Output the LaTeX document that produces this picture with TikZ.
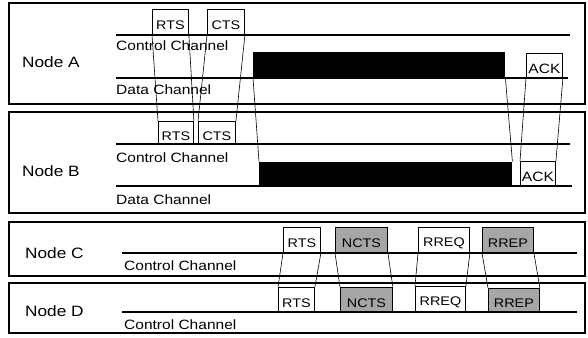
\documentclass[tikz,border=0pt]{standalone}
\usepackage{fontspec}
\setmainfont{Liberation Sans}[FakeStretch=1.15]
\begin{document}
\begin{tikzpicture}[x=1pt,y=-1pt,
  panel/.style={draw, line width=1.3pt},
  chan/.style={line width=1.1pt},
  pkt/.style={draw, line width=0.9pt, inner sep=0pt, anchor=south west,
    font=\fontsize{12.5}{13}\selectfont, text height=15.5pt},
  ctl/.style={pkt, fill=black!35},
  bar/.style={fill=black, inner sep=0pt, anchor=south west},
  conn/.style={line width=0.6pt},
  lbl/.style={anchor=base west, inner sep=0pt, font=\fontsize{13.5}{14}\selectfont},
  nodelbl/.style={anchor=base west, inner sep=0pt, font=\fontsize{15}{16}\selectfont}]

\useasboundingbox (0,0) rectangle (588,337);

% panel frames
\draw[panel] (9,3) rectangle (585,104);
\draw[panel] (9,112) rectangle (585,213);
\draw[panel] (9,222) rectangle (585,276);
\draw[panel] (9,283) rectangle (585,333);

% channel lines
\draw[chan] (116,35) -- (570,35);
\draw[chan] (116,78) -- (568,78);
\draw[chan] (116,144) -- (570,144);
\draw[chan] (116,186) -- (572,186);
\draw[chan] (122,253) -- (577,253);
\draw[chan] (122,312) -- (577,312);

% node names
\node[nodelbl] (nA) at (22,67) {Node A};
\node[nodelbl] (nB) at (22,176) {Node B};
\node[nodelbl] (nC) at (25,258) {Node C};
\node[nodelbl] (nD) at (25,316) {Node D};

% channel names
\node[lbl] (ccA) at (116,51) {Control Channel};
\node[lbl] (dcA) at (116,94) {Data Channel};
\node[lbl] (ccB) at (116,162) {Control Channel};
\node[lbl] (dcB) at (116,204) {Data Channel};
\node[lbl] (ccC) at (124,270) {Control Channel};
\node[lbl] (ccD) at (124,329) {Control Channel};

% node A frames
\node[pkt, minimum width=36pt, minimum height=25pt] (artsA) at (152,35) {RTS};
\node[pkt, minimum width=37pt, minimum height=25pt] (actsA) at (207,35) {CTS};
\node[bar, minimum width=252pt, minimum height=26pt] (abar) at (253,78) {};
\node[pkt, minimum width=36pt, minimum height=24pt, font=\fontsize{13.5}{14}\selectfont, text height=16.5pt] (aack) at (526,78) {ACK};

% node B frames
\node[pkt, minimum width=35pt, minimum height=22pt] (brtsB) at (158,144) {RTS};
\node[pkt, minimum width=37pt, minimum height=22pt] (bctsB) at (198,144) {CTS};
\node[bar, minimum width=253pt, minimum height=24pt] (bbar) at (259,186) {};
\node[pkt, minimum width=35pt, minimum height=24pt, font=\fontsize{13.5}{14}\selectfont, text height=16.5pt] (back) at (520,186) {ACK};

% node C frames
\node[pkt, minimum width=37pt, minimum height=25pt] (crts) at (283,253) {RTS};
\node[ctl, minimum width=52pt, minimum height=25pt] (cncts) at (335,253) {NCTS};
\node[pkt, minimum width=51pt, minimum height=25pt] (crreq) at (418,253) {RREQ};
\node[ctl, minimum width=51pt, minimum height=25pt] (crrep) at (482,253) {RREP};

% node D frames
\node[pkt, minimum width=36pt, minimum height=24pt] (drts) at (278,312) {RTS};
\node[ctl, minimum width=52pt, minimum height=24pt] (dncts) at (340,312) {NCTS};
\node[pkt, minimum width=50pt, minimum height=25pt] (drreq) at (415,312) {RREQ};
\node[ctl, minimum width=51pt, minimum height=23pt] (drrep) at (488,312) {RREP};

% propagation between A and B
\draw[conn] (artsA.south west) -- (brtsB.north west);
\draw[conn] (artsA.south east) -- (brtsB.north east);
\draw[conn] (actsA.south west) -- (bctsB.north west);
\draw[conn] (actsA.south east) -- (bctsB.north east);
\draw[conn] (abar.south west) -- (bbar.north west);
\draw[conn] (abar.south east) -- (bbar.north east);
\draw[conn] (aack.south west) -- (back.north west);
\draw[conn] (aack.south east) -- (back.north east);

% propagation between C and D
\draw[conn] (crts.south west) -- (drts.north west);
\draw[conn] (crts.south east) -- (drts.north east);
\draw[conn] (cncts.south west) -- (dncts.north west);
\draw[conn] (cncts.south east) -- (dncts.north east);
\draw[conn] (crreq.south west) -- (drreq.north west);
\draw[conn] (crreq.south east) -- (drreq.north east);
\draw[conn] (crrep.south west) -- (drrep.north west);
\draw[conn] (crrep.south east) -- (drrep.north east);
\end{tikzpicture}
\end{document}
